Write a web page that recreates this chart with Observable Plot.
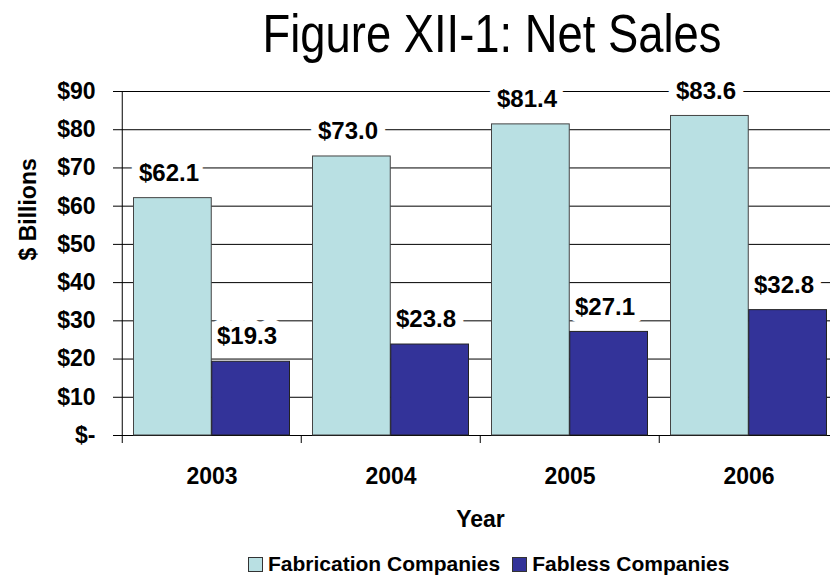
<!DOCTYPE html>
<html>
<head>
<meta charset="utf-8">
<script src="https://cdn.jsdelivr.net/npm/d3@7"></script>
<script src="https://cdn.jsdelivr.net/npm/@observablehq/plot@0.6"></script>
<style>
  html, body { margin: 0; padding: 0; background: white; overflow: hidden; }
  body { width: 830px; height: 577px; position: relative; font-family: 'Liberation Sans', Arial, sans-serif; }
  #title { position: absolute; left: 492px; top: 6px; font-size: 54px; line-height: 54px; white-space: nowrap;
           transform: translateX(-50%) scaleX(0.84); color: #000; z-index: 2; }
  #chart { position: absolute; left: 0; top: 60px; z-index: 1; }
  #legend { position: absolute; left: 248px; top: 553px; height: 22px; display: flex; align-items: center;
            font-size: 21px; font-weight: bold; white-space: nowrap; }
  .sw { display: inline-block; width: 13px; height: 13px; border: 1px solid #333; margin-right: 5px; }
</style>
</head>
<body>
<div id="title">Figure XII-1: Net Sales</div>
<div id="chart"></div>
<div id="legend"></div>
<script>
const years = ["2003", "2004", "2005", "2006"];
const fabrication = [62.1, 73.0, 81.4, 83.6];
const fabless = [19.3, 23.8, 27.1, 32.8];
const yTicks = [0, 10, 20, 30, 40, 50, 60, 70, 80, 90];
const seriesNames = ["Fabrication Companies", "Fabless Companies"];
const seriesColors = ["#b9e0e3", "#333399"];

const fabRows = years.map((year, i) => ({year, series: seriesNames[0], value: fabrication[i]}));
const flsRows = years.map((year, i) => ({year, series: seriesNames[1], value: fabless[i]}));

const bold = "bold";
const fmtLabel = d => "$" + d.value.toFixed(1);
const fabLabel = {x: "year", y: "value", text: fmtLabel, dx: -43, dy: -25, fontSize: 24, fontWeight: bold};
const flsLabel = {x: "year", y: "value", text: fmtLabel, dx: 35, dy: -25, fontSize: 24, fontWeight: bold};

const plot = Plot.plot({
  width: 830,
  height: 480,
  marginLeft: 121,
  marginRight: -9,
  marginTop: 31,
  marginBottom: 105,
  style: {fontFamily: "'Liberation Sans', Arial, sans-serif", fontWeight: "bold", background: "transparent", color: "#000"},
  x: {domain: years, range: [121, 839], padding: 0},
  y: {domain: [0, 90], range: [375, 31]},
  marks: [
    Plot.ruleY(yTicks, {stroke: "#000", strokeWidth: 1}),
    Plot.ruleX([years[0]], {x: d => d, dx: -89.75, stroke: "#000", strokeWidth: 1}),
    // white boxes behind labels (interrupt gridlines only)
    Plot.text(fabRows, {...fabLabel, fill: "white", stroke: "white", strokeWidth: 16}),
    Plot.text(flsRows, {...flsLabel, fill: "white", stroke: "white", strokeWidth: 16}),
    Plot.barY(fabRows, {x: "year", y: "value", fill: seriesColors[0], stroke: "#444", strokeWidth: 1, insetLeft: 11.5, insetRight: 89.75}),
    Plot.barY(flsRows, {x: "year", y: "value", fill: seriesColors[1], stroke: "#222", strokeWidth: 1, insetLeft: 89.75, insetRight: 11.5}),
    Plot.text(fabRows, {...fabLabel, fill: "#000"}),
    Plot.text(flsRows, {...flsLabel, fill: "#000"}),
    Plot.axisY({ticks: yTicks, tickSize: 8, tickPadding: 18, tickFormat: d => d === 0 ? "$-" : "$" + d, fontSize: 23, fontWeight: bold, label: null, stroke: "#000"}),
    Plot.axisX({tickSize: 0, tickPadding: 32, fontSize: 23, fontWeight: bold, label: null}),
    Plot.axisX({tickSize: 8, tickFormat: () => "", label: null, dx: -89.75, stroke: "#000"}),
    Plot.text(["$ Billions"], {text: d => d, frameAnchor: "left", rotate: -90, dx: -93, dy: -3, fontSize: 23, fontWeight: bold, fill: "#000"}),
    Plot.text(["Year"], {text: d => d, frameAnchor: "bottom", lineAnchor: "middle", dy: 84, fontSize: 23, fontWeight: bold, fill: "#000"})
  ]
});
document.getElementById("chart").appendChild(plot);

const legend = document.getElementById("legend");
seriesNames.forEach((name, i) => {
  const item = document.createElement("span");
  item.style.display = "inline-flex";
  item.style.alignItems = "center";
  item.style.marginRight = i === 0 ? "12px" : "0";
  const sw = document.createElement("span");
  sw.className = "sw";
  sw.style.background = seriesColors[i];
  item.appendChild(sw);
  item.appendChild(document.createTextNode(name));
  legend.appendChild(item);
});
</script>
</body>
</html>
